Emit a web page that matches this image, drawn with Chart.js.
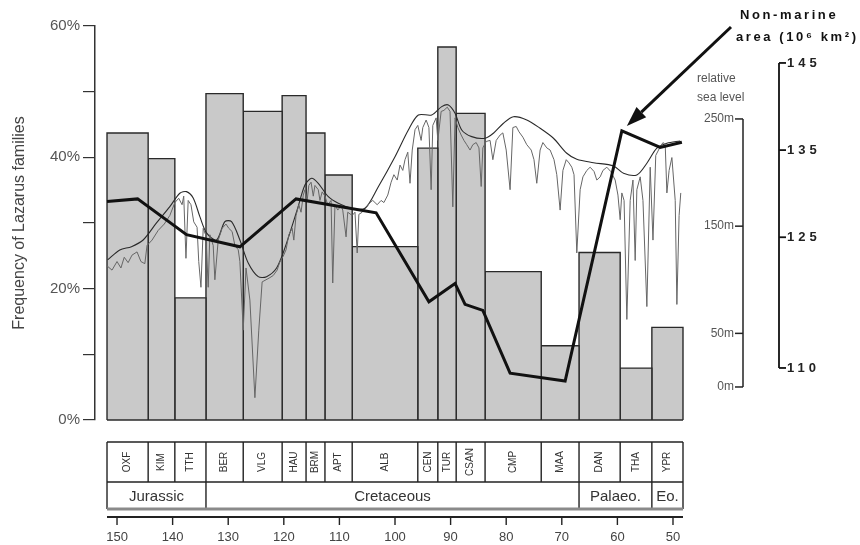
<!DOCTYPE html>
<html>
<head>
<meta charset="utf-8">
<script src="https://cdn.jsdelivr.net/npm/chart.js@4"></script>
<style>
  html, body { margin: 0; padding: 0; background: #fff; }
  #wrap { width: 860px; height: 545px; }
</style>
</head>
<body>
<div id="wrap"><canvas id="fig" width="860" height="545"></canvas></div>
<script>
const FONT = '"Liberation Sans", Arial, Helvetica, sans-serif';

// stage boundaries (Ma), oldest first, as drawn in the figure
const stageEdges = [151.8, 144.4, 139.6, 134.0, 127.3, 120.3, 116.0, 112.6, 107.7, 95.9, 92.3, 89.0, 83.8, 73.7, 66.9, 59.5, 53.8, 48.2];
const stageNames = ['OXF', 'KIM', 'TTH', 'BER', 'VLG', 'HAU', 'BRM', 'APT', 'ALB', 'CEN', 'TUR', 'CSAN', 'CMP', 'MAA', 'DAN', 'THA', 'YPR'];
// frequency of Lazarus families per stage (%)
const lazarusPct = [43.7, 39.8, 18.6, 49.7, 47.0, 49.4, 43.7, 37.3, 26.4, 41.4, 56.8, 46.7, 22.6, 11.3, 25.5, 7.9, 14.1];

const periodEdges = [151.8, 134.0, 66.9, 53.8, 48.2];
const periodNames = ['Jurassic', 'Cretaceous', 'Palaeo.', 'Eo.'];

const ageTicks = [150, 140, 130, 120, 110, 100, 90, 80, 70, 60, 50];
const pctTicks = [0, 10, 20, 30, 40, 50, 60];
const seaTicks = [250, 150, 50, 0];
const areaTicks = [145, 135, 125, 110];

// non-marine area (10^6 km2)
const areaAge = [151.8, 146.3, 137.5, 127.9, 117.8, 103.4, 93.9, 89.2, 87.4, 84.2, 79.3, 69.4, 59.2, 52.3, 48.4];
const areaVal = [129.1, 129.4, 125.3, 123.9, 129.4, 127.8, 117.6, 119.7, 117.3, 116.6, 109.4, 108.5, 137.2, 135.3, 135.9];

// relative sea level (m): long-term curve [Ma, m]
const seaLong = [[151.7,118.5],[149.5,127.8],[147.4,130.9],[145.3,137.1],[142.9,153.0],[140.5,168.2],[138.7,180.7],[137.5,182.2],[136.3,176.3],[135.1,158.9],[133.9,143.7],[132.1,137.1],[130.6,154.2],[129.4,154.2],[127.9,137.1],[126.4,115.7],[124.6,102.9],[123.1,102.9],[121.3,111.0],[119.8,129.7],[117.6,165.1],[116.2,188.4],[115.0,194.7],[113.8,190.0],[112.0,177.5],[110.2,171.4],[107.8,166.7],[105.4,166.7],[103.0,186.8],[100.0,214.8],[97.6,239.7],[95.8,253.7],[93.4,253.7],[91.6,261.5],[90.4,263.1],[89.2,255.3],[88.0,239.7],[86.2,233.5],[83.8,232.0],[82.3,236.7],[80.5,246.0],[78.7,252.1],[76.3,249.1],[73.9,241.3],[71.5,232.0],[69.1,218.0],[67.3,212.4],[64.3,209.2],[60.7,206.2],[58.9,199.3],[56.5,197.8],[54.7,208.7],[52.9,222.7],[51.1,227.3],[48.7,229.5]];

// relative sea level (m): short-term curve [Ma, m]
const seaShort = [[151.8,113],[150.9,109],[150.0,117],[149.3,111],[148.7,121],[148.0,116],[147.3,123],[146.4,126],[145.7,117],[145.0,115],[144.6,132],[143.7,137],[142.6,146],[141.5,152],[140.5,160],[139.6,172],[138.9,176],[138.3,170],[138.0,178],[137.6,120],[137.2,174],[136.7,170],[136.2,154],[135.6,149],[135.3,117],[134.9,93],[134.5,148],[134.0,141],[133.6,93],[133.3,142],[132.7,132],[132.4,100],[131.8,137],[131.1,148],[130.4,152],[129.9,148],[129.3,145],[128.8,132],[128.2,128],[127.9,117],[127.3,53],[126.8,111],[126.1,81],[125.2,-10],[124.5,53],[123.9,98],[123.2,100],[122.5,102],[121.9,104],[121.2,109],[120.7,117],[120.1,122],[119.6,128],[119.1,142],[118.5,148],[118.2,137],[117.8,160],[117.3,170],[116.9,163],[116.5,179],[116.2,184],[115.8,174],[115.5,188],[115.1,191],[114.7,178],[114.4,188],[113.8,184],[113.5,174],[113.1,182],[112.6,178],[112.1,170],[111.5,174],[111.2,97],[110.8,170],[110.3,165],[109.7,169],[109.4,165],[108.8,140],[108.5,163],[107.7,160],[107.2,163],[106.8,125],[106.5,161],[105.9,163],[105.2,167],[104.5,172],[104.0,174],[103.2,170],[102.5,174],[102.0,172],[101.3,179],[100.7,191],[100.2,198],[99.6,193],[99.1,207],[98.6,202],[98.2,212],[97.7,219],[97.3,190],[96.9,221],[96.4,240],[95.9,244],[95.3,230],[95.0,242],[94.4,249],[93.9,242],[93.5,184],[93.2,244],[92.6,251],[92.3,230],[91.7,257],[91.2,258],[90.6,261],[90.1,257],[89.6,168],[89.2,251],[88.7,242],[88.1,235],[87.6,230],[87.1,226],[86.5,221],[86.0,226],[85.4,228],[84.9,223],[84.5,187],[84.2,223],[83.6,229],[82.9,230],[82.4,212],[81.8,230],[81.1,235],[80.6,237],[80.0,221],[79.3,184],[78.8,242],[78.2,243],[77.7,238],[77.0,233],[76.3,226],[75.5,221],[75.0,212],[74.5,190],[73.9,221],[73.4,228],[72.7,223],[72.1,221],[71.4,212],[70.9,198],[70.3,165],[69.8,202],[69.2,212],[68.7,209],[68.2,205],[67.8,198],[67.3,125],[66.7,184],[66.2,196],[65.5,202],[64.9,205],[64.2,201],[63.7,193],[63.1,196],[62.6,202],[61.9,205],[61.2,201],[60.4,193],[59.9,179],[59.5,156],[59.2,181],[58.8,174],[58.3,63],[57.7,174],[57.2,193],[56.8,118],[56.5,184],[55.9,196],[55.4,174],[54.7,75],[54.1,205],[53.6,137],[53.1,216],[52.3,224],[51.8,228],[51.4,226],[51.1,181],[50.7,202],[50.2,214],[49.6,174],[49.3,77],[48.9,160],[48.6,181]];

Chart.defaults.font.family = FONT;

// one rectangle per stage (x ascending), filled down to 0 %
const barSets = lazarusPct.map((h, i) => {
  const young = stageEdges[i + 1], old = stageEdges[i];
  return {
    data: [{x: young, y: 0}, {x: young, y: h}, {x: old, y: h}, {x: old, y: 0}],
    yAxisID: 'y',
    borderColor: '#2a2a2a',
    borderWidth: 1.4,
    backgroundColor: '#c9c9c9',
    fill: 'origin',
    pointRadius: 0,
    tension: 0,
    order: 3
  };
});

const lineSets = [
  {
    data: seaShort.map(p => ({x: p[0], y: p[1]})),
    yAxisID: 'ySea', borderColor: '#666', borderWidth: 1, pointRadius: 0, tension: 0, fill: false, order: 2
  },
  {
    data: seaLong.map(p => ({x: p[0], y: p[1]})),
    yAxisID: 'ySea', borderColor: '#2a2a2a', borderWidth: 1.1, pointRadius: 0, tension: 0.3, fill: false, order: 2
  },
  {
    data: areaAge.map((a, i) => ({x: a, y: areaVal[i]})),
    yAxisID: 'yArea', borderColor: '#111', borderWidth: 3, pointRadius: 0, tension: 0, fill: false, order: 1
  }
];

const line = (ctx, x1, y1, x2, y2) => {
  ctx.beginPath(); ctx.moveTo(x1, y1); ctx.lineTo(x2, y2); ctx.stroke();
};

const decor = {
  id: 'decor',
  afterDatasetsDraw(chart) {
    // baseline under the bars
    const {ctx, scales: {x, y}} = chart;
    ctx.save();
    ctx.strokeStyle = '#2a2a2a';
    ctx.lineWidth = 1.4;
    const y0 = y.getPixelForValue(0);
    line(ctx, x.getPixelForValue(stageEdges[0]), y0, x.getPixelForValue(stageEdges[stageEdges.length - 1]), y0);
    ctx.restore();
  },
  afterDraw(chart) {
    const {ctx, scales: {x, ySea, yArea}} = chart;
    const X = v => x.getPixelForValue(v);
    ctx.save();

    // stage / period table
    const xs = stageEdges.map(X);
    const L = xs[0], R = xs[xs.length - 1];
    const T = 442, M = 482, B = 509;
    ctx.strokeStyle = '#222';
    ctx.lineWidth = 1.4;
    line(ctx, L, T, R, T);
    line(ctx, L, M, R, M);
    xs.forEach(px => line(ctx, px, T, px, M));
    periodEdges.map(X).forEach(px => line(ctx, px, M, px, B));
    ctx.strokeStyle = '#8a8a8a';
    ctx.lineWidth = 3;
    line(ctx, L, B, R, B);
    ctx.strokeStyle = '#222';
    ctx.lineWidth = 2;
    line(ctx, L, 517, R, 517);
    ctx.lineWidth = 1.4;
    x.ticks.forEach(t => line(ctx, X(t.value), 517, X(t.value), 525));

    ctx.fillStyle = '#333';
    ctx.font = '10px ' + FONT;
    ctx.textAlign = 'center';
    ctx.textBaseline = 'middle';
    stageNames.forEach((n, i) => {
      ctx.save();
      ctx.translate((xs[i] + xs[i + 1]) / 2, (T + M) / 2);
      ctx.rotate(-Math.PI / 2);
      ctx.fillText(n, 0, 0);
      ctx.restore();
    });
    ctx.font = '15px ' + FONT;
    const pxs = periodEdges.map(X);
    periodNames.forEach((n, i) => ctx.fillText(n, (pxs[i] + pxs[i + 1]) / 2, (M + B) / 2 + 1));

    // relative sea level axis
    const sx = 743;
    ctx.strokeStyle = '#222';
    ctx.lineWidth = 1.5;
    line(ctx, sx, ySea.getPixelForValue(250), sx, ySea.getPixelForValue(0));
    ctx.fillStyle = '#555';
    ctx.font = '12px ' + FONT;
    ctx.textAlign = 'right';
    seaTicks.forEach(v => {
      const py = ySea.getPixelForValue(v);
      line(ctx, sx - 8, py, sx, py);
      ctx.fillText(v + 'm', sx - 9, py);
    });
    ctx.textAlign = 'left';
    ctx.fillText('relative', 697, 79);
    ctx.fillText('sea level', 697, 98);

    // non-marine area axis
    const ax = 779;
    ctx.strokeStyle = '#111';
    ctx.lineWidth = 1.8;
    line(ctx, ax, yArea.getPixelForValue(145), ax, yArea.getPixelForValue(110));
    ctx.fillStyle = '#222';
    ctx.font = 'bold 13px ' + FONT;
    ctx.letterSpacing = '4px';
    areaTicks.forEach(v => {
      const py = yArea.getPixelForValue(v);
      line(ctx, ax, py, ax + 7, py);
      ctx.fillText(String(v), ax + 8, py);
    });

    ctx.font = 'bold 13px ' + FONT;
    ctx.letterSpacing = '2.6px';
    ctx.fillStyle = '#111';
    ctx.fillText('Non-marine', 740, 15);
    ctx.fillText('area (10\u2076 km\u00b2)', 736, 37);
    ctx.letterSpacing = '0px';

    // arrow pointing at the area peak
    let k = 0;
    areaVal.forEach((v, i) => { if (v > areaVal[k]) k = i; });
    const tx = X(areaAge[k]) + 5, ty = yArea.getPixelForValue(areaVal[k]) - 5;
    const sx0 = 731, sy0 = 27;
    const ang = Math.atan2(ty - sy0, tx - sx0);
    const hl = 20, hw = 7;
    const bx = tx - hl * Math.cos(ang), by = ty - hl * Math.sin(ang);
    ctx.strokeStyle = '#111';
    ctx.lineWidth = 3;
    line(ctx, sx0, sy0, bx, by);
    ctx.fillStyle = '#111';
    ctx.beginPath();
    ctx.moveTo(tx, ty);
    ctx.lineTo(bx + hw * Math.sin(ang), by - hw * Math.cos(ang));
    ctx.lineTo(bx - hw * Math.sin(ang), by + hw * Math.cos(ang));
    ctx.closePath();
    ctx.fill();

    ctx.restore();
  }
};

new Chart(document.getElementById('fig'), {
  type: 'line',
  data: { datasets: [...barSets, ...lineSets] },
  options: {
    responsive: false,
    animation: false,
    layout: { padding: { left: 0, top: 26, right: 175, bottom: 0 } },
    plugins: { legend: { display: false }, tooltip: { enabled: false } },
    scales: {
      x: {
        type: 'linear', reverse: true, min: 47.84, max: 153.96, position: 'bottom',
        afterBuildTicks: s => { s.ticks = ageTicks.map(v => ({value: v})); },
        afterFit: s => { s.height = 125; s.paddingLeft = 0; s.paddingRight = 0; },
        // labels pushed below the stage table by an undrawn tick length
        grid: { display: false, drawTicks: true, tickLength: 110 },
        border: { display: false },
        ticks: { padding: 0, color: '#444', font: { size: 13 }, maxRotation: 0, autoSkip: false }
      },
      y: {
        position: 'left', min: 0, max: 60,
        afterBuildTicks: s => { s.ticks = pctTicks.map(v => ({value: v})); },
        afterFit: s => { s.width = 95; },
        grid: { drawOnChartArea: false, drawTicks: true, tickLength: 12, color: '#333', lineWidth: 1.2 },
        border: { display: true, color: '#333', width: 1.5 },
        ticks: { padding: 3, color: '#555', font: { size: 15 }, callback: v => (v % 20 === 0 ? v + '%' : '') },
        title: { display: true, text: 'Frequency of Lazarus families', color: '#444', font: { size: 16 }, padding: { top: 10, bottom: 0 } }
      },
      ySea: { display: false, min: -30.8, max: 336.7 },
      yArea: { display: false, min: 104.03, max: 149.24 }
    }
  },
  plugins: [decor]
});
</script>
</body>
</html>
